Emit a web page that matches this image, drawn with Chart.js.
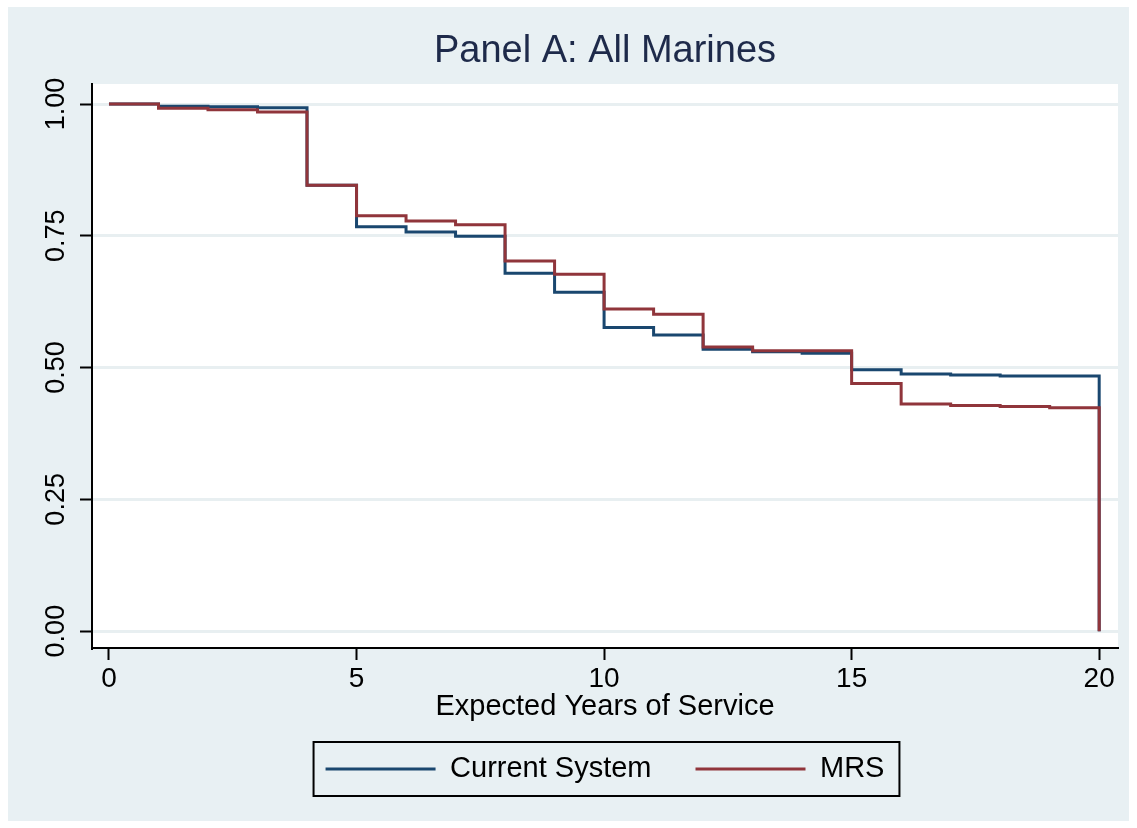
<!DOCTYPE html>
<html lang="en">
<head>
    <meta charset="UTF-8">
    <title>Panel A: All Marines</title>
    <script src="https://cdn.jsdelivr.net/npm/chart.js@4.4.0/dist/chart.umd.js"></script>
    <style>
        html, body { margin: 0; padding: 0; background: #ffffff; }
        #wrap { width: 1137px; height: 828px; }
    </style>
</head>
<body>
    <div id="wrap"><canvas id="survChart" width="1137" height="828"></canvas></div>

    <script>
        // Expected years of service (step points)
        const years = [0, 1, 2, 3, 4, 5, 6, 7, 8, 9, 10, 11, 12, 13, 14, 15, 16, 17, 18, 19, 20];
        const currentSystem = [1.000, 0.996, 0.995, 0.993, 0.846, 0.767, 0.757, 0.749, 0.679, 0.643, 0.576,
                               0.562, 0.535, 0.530, 0.527, 0.496, 0.488, 0.486, 0.484, 0.484, 0.000];
        const mrs = [1.000, 0.992, 0.989, 0.985, 0.846, 0.788, 0.778, 0.771, 0.702, 0.677, 0.611,
                     0.601, 0.539, 0.532, 0.532, 0.470, 0.431, 0.428, 0.426, 0.424, 0.000];
        const xTicks = [0, 5, 10, 15, 20];
        const yTicks = [0, 0.25, 0.5, 0.75, 1];

        const FONT = "'Liberation Sans', Arial, sans-serif";
        const BG = '#e8f0f3';

        // outer background + white plot region
        const backdrop = {
            id: 'backdrop',
            beforeDraw(chart) {
                const c = chart.ctx;
                const a = chart.chartArea;
                c.save();
                c.fillStyle = '#ffffff';
                c.fillRect(0, 0, chart.width, chart.height);
                c.fillStyle = BG;
                c.fillRect(8, 7, chart.width - 16, chart.height - 14);
                c.fillStyle = '#ffffff';
                c.fillRect(a.left, a.top, a.right - a.left, a.bottom - a.top);
                c.restore();
            }
        };

        // Stata style frame around the legend
        const legendFrame = {
            id: 'legendFrame',
            afterDraw(chart) {
                const boxes = chart.legend && chart.legend.legendHitBoxes;
                if (!boxes || !boxes.length) return;
                let l = Infinity, r = -Infinity, cy = 0;
                boxes.forEach(b => {
                    l = Math.min(l, b.left);
                    r = Math.max(r, b.left + b.width);
                    cy += b.top + b.height / 2;
                });
                cy /= boxes.length;
                const c = chart.ctx;
                c.save();
                c.strokeStyle = '#000000';
                c.lineWidth = 2;
                c.strokeRect(l - 12, cy - 27, (r - l) + 27, 54);
                c.restore();
            }
        };

        const ctx = document.getElementById('survChart').getContext('2d');
        const chart = new Chart(ctx, {
            type: 'line',
            data: {
                labels: years,
                datasets: [{
                    label: 'Current System',
                    data: years.map((x, i) => ({ x: x, y: currentSystem[i] })),
                    borderColor: '#1a476f',
                    backgroundColor: '#1a476f',
                    borderWidth: 3,
                    stepped: 'before',
                    pointRadius: 0,
                    fill: false,
                    order: 2
                }, {
                    label: 'MRS',
                    data: years.map((x, i) => ({ x: x, y: mrs[i] })),
                    borderColor: '#90353b',
                    backgroundColor: '#90353b',
                    borderWidth: 3,
                    stepped: 'before',
                    pointRadius: 0,
                    fill: false,
                    order: 1
                }]
            },
            options: {
                responsive: false,
                animation: false,
                layout: { padding: { left: 0, right: 19, top: 0, bottom: 34.5 } },
                plugins: {
                    title: {
                        display: true,
                        fullSize: false,
                        text: 'Panel A: All Marines',
                        color: '#1e2a4a',
                        font: { family: FONT, size: 38, weight: 'normal' },
                        padding: { top: 29, bottom: 9.4 }
                    },
                    legend: {
                        display: true,
                        fullSize: false,
                        position: 'bottom',
                        labels: {
                            usePointStyle: true,
                            pointStyle: 'line',
                            pointStyleWidth: 110,
                            color: '#000000',
                            font: { family: FONT, size: 29 },
                            padding: 44,
                            sort: (a, b) => a.datasetIndex - b.datasetIndex
                        }
                    },
                    tooltip: { enabled: false }
                },
                scales: {
                    x: {
                        type: 'linear',
                        min: -0.343,
                        max: 20.38,
                        afterBuildTicks: s => { s.ticks = xTicks.map(v => ({ value: v })); },
                        afterFit: s => { s.height = 62.5; },
                        border: { color: '#000000', width: 2 },
                        grid: { drawOnChartArea: false, tickColor: '#000000', tickLength: 12, tickWidth: 2 },
                        ticks: { color: '#000000', font: { family: FONT, size: 28 }, padding: 2, maxRotation: 0 },
                        title: {
                            display: true,
                            text: 'Expected Years of Service',
                            color: '#000000',
                            font: { family: FONT, size: 29 },
                            padding: { top: 0, bottom: -13.5 }
                        }
                    },
                    y: {
                        type: 'linear',
                        min: -0.032,
                        max: 1.038,
                        afterBuildTicks: s => { s.ticks = yTicks.map(v => ({ value: v })); },
                        afterFit: s => { s.width = 92; },
                        border: { color: '#000000', width: 2 },
                        grid: { color: '#e8eff1', lineWidth: 3, tickColor: '#000000', tickLength: 12, tickWidth: 2 },
                        ticks: {
                            color: '#000000',
                            font: { family: FONT, size: 27 },
                            minRotation: 90,
                            maxRotation: 90,
                            crossAlign: 'center',
                            padding: -3,
                            callback: v => v.toFixed(2)
                        }
                    }
                }
            },
            plugins: [backdrop, legendFrame]
        });
    </script>
</body>
</html>
